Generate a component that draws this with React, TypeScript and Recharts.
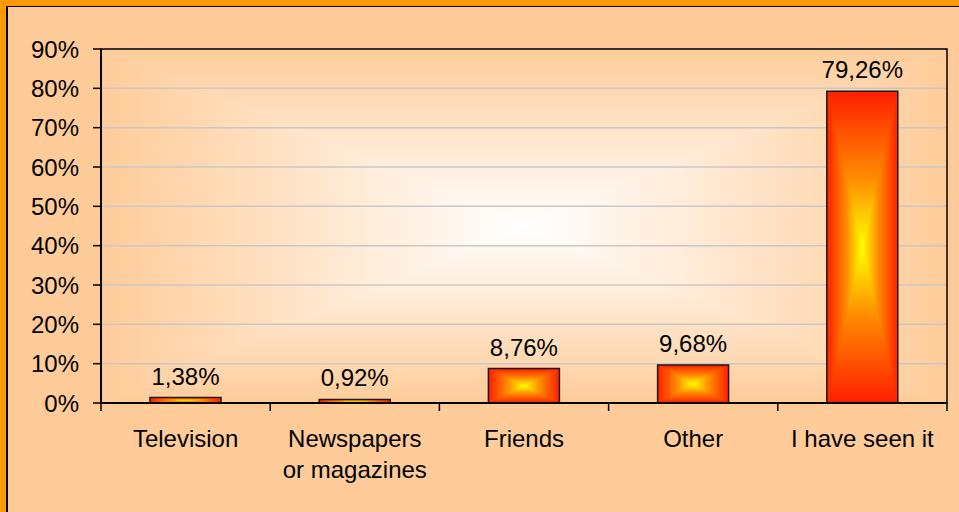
import { Bar, BarChart, CartesianGrid, LabelList, ReferenceArea, XAxis, YAxis } from "recharts"

const categories = ["Television", "Newspapers\nor magazines", "Friends", "Other", "I have seen it"]
const shares = [1.38, 0.92, 8.76, 9.68, 79.26]
const yTicks = [0, 10, 20, 30, 40, 50, 60, 70, 80, 90]

const FONT = "'Liberation Sans', Arial, Helvetica, sans-serif"
const TICK_LEN = 8
const LABEL_GAP = 19
const LINE_H = 31

const data = categories.map((name, i) => ({ name, value: shares[i] }))

const fmtPct = (v: number) => `${v.toFixed(2).replace(".", ",")}%`

// category tick: tick marks sit on the band edges, label in the middle
function CategoryTick(props: any) {
  const { x, y, payload, index, visibleTicksCount } = props
  const half = payload?.offset ?? 0
  const axisY = y - TICK_LEN - LABEL_GAP
  const lines = String(payload.value).split("\n")
  const isLast = index === visibleTicksCount - 1
  return (
    <g>
      <line x1={x - half} x2={x - half} y1={axisY} y2={axisY + TICK_LEN} stroke="#000" strokeWidth={1.5} />
      {isLast && (
        <line x1={x + half} x2={x + half} y1={axisY} y2={axisY + TICK_LEN} stroke="#000" strokeWidth={1.5} />
      )}
      <text x={x} y={y} textAnchor="middle" fill="#000" fontSize={24} fontFamily={FONT}>
        {lines.map((ln, i) => (
          <tspan key={i} x={x} dy={i === 0 ? "0.71em" : LINE_H}>
            {ln}
          </tspan>
        ))}
      </text>
    </g>
  )
}

// "from centre" rectangular gradient, built from four triangles
function RectGradient({ id, edge, mid, center, midAt = 0.5 }: { id: string; edge: string; mid?: string; center: string; midAt?: number }) {
  const stops = (
    <>
      <stop offset="0" stopColor={edge} />
      {mid && <stop offset={midAt} stopColor={mid} />}
      <stop offset="1" stopColor={center} />
    </>
  )
  return (
    <>
      <linearGradient id={`${id}-t`} x1="0" y1="0" x2="0" y2="1">{stops}</linearGradient>
      <linearGradient id={`${id}-b`} x1="0" y1="1" x2="0" y2="0">{stops}</linearGradient>
      <linearGradient id={`${id}-l`} x1="0" y1="0" x2="1" y2="0">{stops}</linearGradient>
      <linearGradient id={`${id}-r`} x1="1" y1="0" x2="0" y2="0">{stops}</linearGradient>
      <pattern id={id} patternUnits="objectBoundingBox" patternContentUnits="objectBoundingBox" width="1" height="1">
        <rect x="0" y="0" width="1" height="1" fill={mid ?? center} />
        <polygon points="0,0 1,0 0.5,0.5" fill={`url(#${id}-t)`} shapeRendering="crispEdges" />
        <polygon points="0,1 1,1 0.5,0.5" fill={`url(#${id}-b)`} shapeRendering="crispEdges" />
        <polygon points="0,0 0,1 0.5,0.5" fill={`url(#${id}-l)`} shapeRendering="crispEdges" />
        <polygon points="1,0 1,1 0.5,0.5" fill={`url(#${id}-r)`} shapeRendering="crispEdges" />
      </pattern>
    </>
  )
}

export default function App() {
  return (
    <div style={{ position: "absolute", left: 0, top: 0, width: 959, height: 512, background: "#FFCC99", fontFamily: FONT }}>
      <BarChart width={959} height={512} data={data} margin={{ top: 49, right: 12, left: 11, bottom: 29 }}>
        <defs>
          <RectGradient id="plotBg" edge="#FFCC99" center="#FFFFFF" />
          <RectGradient id="barFill" edge="#FF1E00" mid="#FF8A00" center="#FFFF00" midAt={0.55} />
        </defs>
        <CartesianGrid vertical={false} stroke="#C8C8C8" strokeWidth={1.5} fill="url(#plotBg)" fillOpacity={1} />
        <ReferenceArea y1={0} y2={90} fill="none" fillOpacity={0} stroke="#000" strokeWidth={1.5} ifOverflow="visible" />
        <XAxis
          dataKey="name"
          height={80}
          tickLine={false}
          tickSize={TICK_LEN}
          tickMargin={LABEL_GAP}
          axisLine={{ stroke: "#000", strokeWidth: 2 }}
          tick={<CategoryTick />}
          interval={0}
        />
        <YAxis
          width={90}
          domain={[0, 90]}
          ticks={yTicks}
          interval={0}
          tickSize={TICK_LEN}
          tickMargin={14}
          tickFormatter={(v) => `${v}%`}
          tick={{ fill: "#000", fontSize: 24, fontFamily: FONT }}
          tickLine={{ stroke: "#000", strokeWidth: 1.5 }}
          axisLine={{ stroke: "#000", strokeWidth: 2 }}
        />
        <Bar dataKey="value" barSize={71} fill="url(#barFill)" stroke="#1A1A1A" strokeWidth={1.5} isAnimationActive={false}>
          <LabelList
            dataKey="value"
            position="top"
            offset={13}
            formatter={(v: any) => fmtPct(Number(v))}
            fill="#000"
            fontSize={24}
            fontFamily={FONT}
          />
        </Bar>
      </BarChart>
      <div style={{ position: "absolute", left: 0, top: 0, width: 959, height: 6, background: "#FF9900" }} />
      <div style={{ position: "absolute", left: 0, top: 0, width: 6, height: 512, background: "#FF9900" }} />
      <div style={{ position: "absolute", left: 6, top: 6, width: 953, height: 1, background: "#000" }} />
      <div style={{ position: "absolute", left: 6, top: 6, width: 2, height: 506, background: "#000" }} />
    </div>
  )
}
